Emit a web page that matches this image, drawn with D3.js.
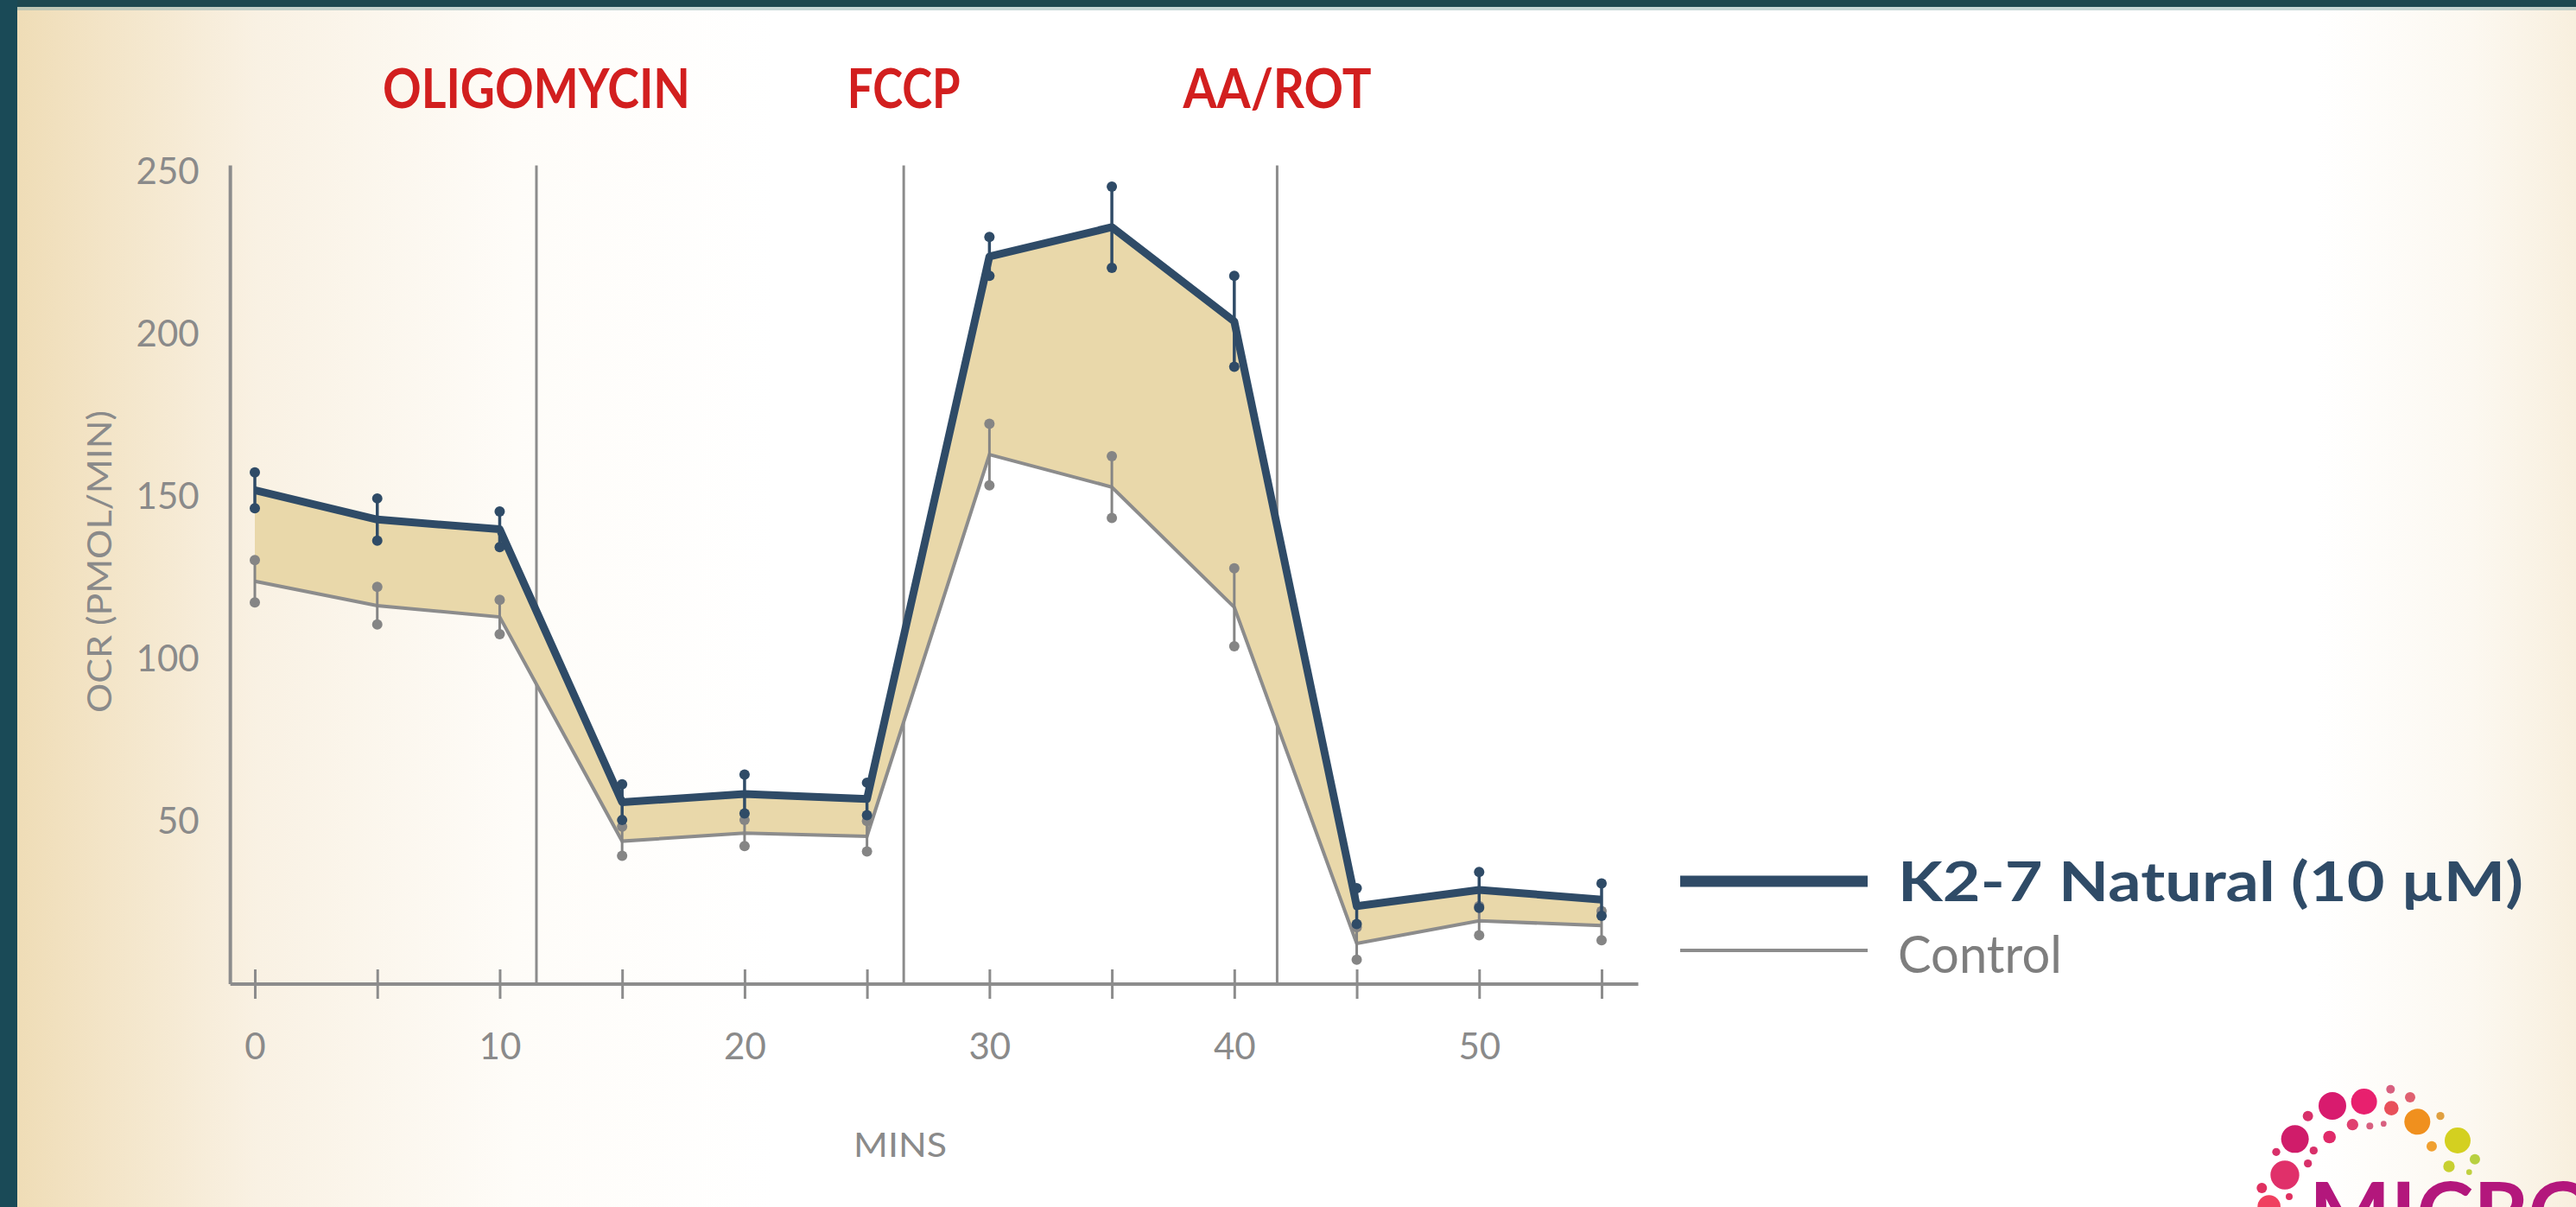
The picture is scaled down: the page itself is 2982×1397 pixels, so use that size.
<!DOCTYPE html>
<html>
<head>
<meta charset="utf-8">
<script src="https://cdn.jsdelivr.net/npm/d3@7"></script>
<style>
  html, body { margin: 0; padding: 0; background: #ffffff; }
  svg { display: block; }
  text { font-family: Lato, "Open Sans", sans-serif; }
</style>
</head>
<body>
<div id="chart"></div>
<script>
// values
const mins = [0, 5, 10, 15, 20, 25, 30, 35, 40, 45, 50, 55];
const k2Mean = [152, 143, 140, 56, 58.5, 57, 224, 233, 204, 24, 29, 26];
const k2Err = [5.5, 6.5, 5.5, 5.5, 6, 5, 6, 12.5, 14, 5.5, 5.5, 5];
const ctrlMean = [124, 116.5, 113, 44, 46.5, 45.5, 163, 153, 116, 12.5, 19.5, 18];
const ctrlErr = [6.5, 5.8, 5.3, 4.5, 4, 4.7, 9.5, 9.5, 12, 5, 4.5, 4.5];

const injectionNames = ["OLIGOMYCIN", "FCCP", "AA/ROT"];
const injectionTimes = [11.5, 26.5, 41.75];

const xTicks = [0, 5, 10, 15, 20, 25, 30, 35, 40, 45, 50, 55];
const xLabels = [0, 10, 20, 30, 40, 50];
const yTicks = [50, 100, 150, 200, 250];

const legendNames = ["K2-7 Natural (10 µM)", "Control"];

const W = 2982, H = 1397;
const navy = "#2f4b67", grey = "#8c8c8c", band = "#e9d8aa";

const svg = d3.select("#chart").append("svg")
    .attr("width", W)
    .attr("height", H);

// background: beige fade on the left, teal frame
const defs = svg.append("defs");
const grad = defs.append("linearGradient").attr("id", "bg")
    .attr("x1", "0").attr("x2", "1").attr("y1", "0").attr("y2", "0");
[[0, "#eedbb3"], [0.03, "#f2e2c2"], [0.1, "#f9f1e3"], [0.2, "#fefcf8"], [0.3, "#ffffff"],
 [0.9, "#ffffff"], [0.96, "#fcf8f0"], [1, "#f8efde"]].forEach(s => {
    grad.append("stop").attr("offset", s[0]).attr("stop-color", s[1]);
});
svg.append("rect").attr("width", W).attr("height", H).attr("fill", "url(#bg)");
svg.append("rect").attr("x", 0).attr("y", 0).attr("width", W).attr("height", 8).attr("fill", "#1e4850");
svg.append("rect").attr("x", 0).attr("y", 8).attr("width", W).attr("height", 4).attr("fill", "#8fb0b0").attr("opacity", 0.5);
svg.append("rect").attr("x", 0).attr("y", 0).attr("width", 20).attr("height", H).attr("fill", "#1a4a57");

// scales
const x = d3.scaleLinear().domain([0, 55]).range([295, 1854]);
const y = d3.scaleLinear().domain([0, 250]).range([1139, 199]);

const g = svg.append("g");

// injection lines
g.selectAll(".inj")
    .data(injectionTimes)
    .enter()
    .append("line")
    .attr("x1", d => x(d)).attr("x2", d => x(d))
    .attr("y1", y(252)).attr("y2", y(0))
    .attr("stroke", grey)
    .attr("stroke-width", 3);

g.selectAll(".injLabel")
    .data(injectionNames)
    .enter()
    .append("text")
    .attr("x", (d, i) => x(injectionTimes[i]))
    .attr("y", 125)
    .attr("text-anchor", "middle")
    .attr("font-weight", "bold")
    .attr("font-size", 64)
    .attr("fill", "#d21f1f")
    .attr("textLength", d => d === "OLIGOMYCIN" ? 356 : (d === "FCCP" ? 131 : 218))
    .attr("lengthAdjust", "spacingAndGlyphs")
    .text(d => d);

// band between the two series
const rows = mins.map((m, i) => ({ t: m, k: k2Mean[i], c: ctrlMean[i], ke: k2Err[i], ce: ctrlErr[i] }));

g.append("path")
    .datum(rows)
    .attr("fill", band)
    .attr("d", d3.area().x(d => x(d.t)).y0(d => y(d.c)).y1(d => y(d.k)));

// control line + error bars
g.append("path")
    .datum(rows)
    .attr("fill", "none")
    .attr("stroke", grey)
    .attr("stroke-width", 4)
    .attr("d", d3.line().x(d => x(d.t)).y(d => y(d.c)));

function errorBars(key, err, color, w) {
    const eb = g.append("g");
    eb.selectAll("line")
        .data(rows)
        .enter()
        .append("line")
        .attr("x1", d => x(d.t)).attr("x2", d => x(d.t))
        .attr("y1", d => y(d[key] - d[err])).attr("y2", d => y(d[key] + d[err]))
        .attr("stroke", color)
        .attr("stroke-width", w);
    eb.selectAll(".top")
        .data(rows)
        .enter()
        .append("circle")
        .attr("cx", d => x(d.t)).attr("cy", d => y(d[key] + d[err]))
        .attr("r", 6).attr("fill", color);
    eb.selectAll(".bot")
        .data(rows)
        .enter()
        .append("circle")
        .attr("cx", d => x(d.t)).attr("cy", d => y(d[key] - d[err]))
        .attr("r", 6).attr("fill", color);
}
errorBars("c", "ce", "#858585", 3);

// K2-7 line + error bars
g.append("path")
    .datum(rows)
    .attr("fill", "none")
    .attr("stroke", navy)
    .attr("stroke-width", 9)
    .attr("stroke-linejoin", "round")
    .attr("d", d3.line().x(d => x(d.t)).y(d => y(d.k)));
errorBars("k", "ke", navy, 3.5);

// axes
const xAxis = g.append("g")
    .attr("transform", "translate(0," + y(0) + ")")
    .call(d3.axisBottom(x).tickValues(xTicks).tickSize(17).tickPadding(40)
        .tickFormat(d => xLabels.includes(d) ? d : ""));
xAxis.select(".domain").remove();
xAxis.selectAll(".tick line").attr("y1", -17).attr("stroke", grey).attr("stroke-width", 3);
xAxis.selectAll(".tick text")
    .attr("font-family", "Lato, sans-serif")
    .attr("font-size", 42)
    .attr("fill", "#8a8a8a");
xAxis.append("line")
    .attr("x1", x(-1)).attr("x2", x(56.5))
    .attr("stroke", grey).attr("stroke-width", 4);

const yAxis = g.append("g")
    .attr("transform", "translate(" + x(-1) + ",0)")
    .call(d3.axisLeft(y).tickValues(yTicks).tickSize(0).tickPadding(36));
yAxis.select(".domain").remove();
yAxis.selectAll(".tick text")
    .attr("font-family", "Lato, sans-serif")
    .attr("font-size", 42)
    .attr("fill", "#8a8a8a");
yAxis.append("line")
    .attr("y1", y(252)).attr("y2", y(0))
    .attr("stroke", grey).attr("stroke-width", 4);

// axis titles
svg.append("text")
    .attr("transform", "translate(129,650) rotate(-90)")
    .attr("text-anchor", "middle")
    .attr("font-size", 38)
    .attr("fill", "#8a8a8a")
    .attr("textLength", 350)
    .attr("lengthAdjust", "spacingAndGlyphs")
    .text("OCR (PMOL/MIN)");

svg.append("text")
    .attr("x", 1042)
    .attr("y", 1339)
    .attr("text-anchor", "middle")
    .attr("font-size", 38)
    .attr("fill", "#8a8a8a")
    .attr("textLength", 108)
    .attr("lengthAdjust", "spacingAndGlyphs")
    .text("MINS");

// legend
const legend = svg.append("g");
legend.append("line").attr("x1", 1945).attr("x2", 2162).attr("y1", 1020).attr("y2", 1020)
    .attr("stroke", navy).attr("stroke-width", 13);
legend.append("line").attr("x1", 1945).attr("x2", 2162).attr("y1", 1100).attr("y2", 1100)
    .attr("stroke", grey).attr("stroke-width", 4);
legend.append("text")
    .attr("x", 2197).attr("y", 1043)
    .attr("font-size", 64).attr("font-weight", "bold").attr("fill", navy)
    .attr("textLength", 724).attr("lengthAdjust", "spacingAndGlyphs")
    .text(legendNames[0]);
legend.append("text")
    .attr("x", 2197).attr("y", 1126)
    .attr("font-size", 60).attr("fill", "#7e7e7e")
    .attr("textLength", 190).attr("lengthAdjust", "spacingAndGlyphs")
    .text(legendNames[1]);

// logo in the corner (partly cut off)
const logoDots = [
    [420, 150, 48, "#d81b6e"], [530, 135, 45, "#e8206e"], [290, 265, 48, "#d01c6a"],
    [255, 390, 50, "#e0306a"], [715, 205, 45, "#f0901e"], [855, 270, 45, "#d4d020"],
    [200, 500, 40, "#f04060"], [335, 185, 18, "#d8306a"], [410, 258, 22, "#e02a6a"],
    [490, 215, 20, "#e04070"], [550, 220, 12, "#d86080"], [598, 212, 10, "#d86080"],
    [625, 158, 25, "#e8505a"], [622, 92, 15, "#d86080"], [690, 120, 18, "#e06070"],
    [795, 185, 14, "#e0a040"], [765, 290, 18, "#f0a030"], [825, 360, 20, "#c8d030"],
    [915, 335, 18, "#b8d040"], [895, 380, 10, "#c0d040"], [225, 310, 14, "#d8306a"],
    [355, 305, 14, "#d8306a"], [335, 350, 14, "#d8306a"], [175, 435, 18, "#e03060"],
    [270, 465, 12, "#e03060"]
];
const logo = svg.append("g").attr("transform", "translate(2560,1230) scale(0.3333)");
logo.selectAll("circle")
    .data(logoDots)
    .enter()
    .append("circle")
    .attr("cx", d => d[0]).attr("cy", d => d[1]).attr("r", d => d[2])
    .attr("fill", d => d[3]);
svg.append("text")
    .attr("x", 2673).attr("y", 1440)
    .attr("font-size", 100).attr("font-weight", "bold").attr("fill", "#b3177c")
    .text("MICRO");
</script>
</body>
</html>
